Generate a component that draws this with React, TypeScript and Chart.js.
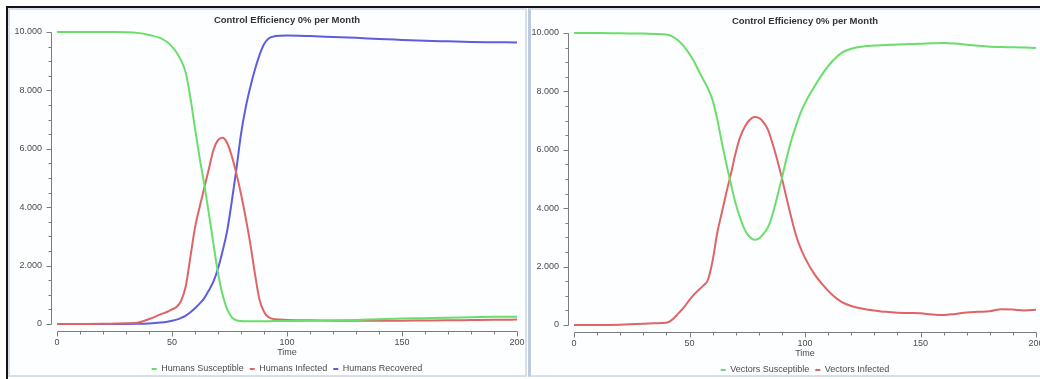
import React, { useEffect, useRef } from 'react';
import { Chart, registerables } from 'chart.js';

Chart.register(...registerables);

// ---------- data ----------
const chartTitle = 'Control Efficiency 0% per Month';
const xAxisTitle = 'Time';
const X_MIN = 0;
const X_MAX = 200;
const X_STEP = 50;
const X_MINOR = 10;
const Y_MIN = 0;
const Y_MAX = 10000;
const Y_STEP = 2000;
const Y_MINOR = 500;

const humanTime = [0, 10, 20, 25, 30, 35, 40, 45, 48, 50, 52, 54, 56, 58, 60, 62, 64, 66, 68, 70, 72, 74, 76, 78, 80, 82, 84, 86, 88, 90, 92, 95, 100, 110, 120, 130, 140, 150, 160, 170, 180, 190, 200];
const humansSusceptible = [10000, 10000, 10000, 10000, 9995, 9970, 9900, 9790, 9650, 9500, 9300, 9020, 8600, 7750, 6700, 5700, 4800, 3800, 2750, 1750, 1000, 500, 230, 130, 100, 95, 90, 90, 90, 90, 95, 100, 105, 110, 125, 140, 165, 185, 200, 215, 235, 250, 245];
const humansInfected = [0, 0, 5, 15, 25, 45, 170, 330, 420, 500, 580, 800, 1300, 2300, 3300, 4000, 4650, 5300, 5950, 6300, 6380, 6200, 5750, 5150, 4450, 3650, 2770, 1750, 850, 420, 230, 160, 140, 125, 115, 110, 110, 115, 120, 125, 135, 145, 150];
const humansRecovered = [0, 0, 0, 0, 0, 5, 20, 50, 80, 110, 150, 210, 290, 400, 540, 700, 880, 1150, 1450, 1900, 2500, 3200, 4200, 5300, 6500, 7400, 8100, 8700, 9200, 9580, 9780, 9860, 9880, 9860, 9830, 9800, 9760, 9730, 9700, 9680, 9660, 9650, 9640];

const vectorTime = [0, 10, 20, 30, 35, 40, 42, 45, 48, 50, 52, 54, 56, 58, 60, 62, 64, 66, 68, 70, 72, 74, 76, 78, 80, 82, 84, 86, 88, 90, 92, 94, 96, 98, 100, 104, 108, 112, 116, 120, 125, 130, 135, 140, 145, 150, 155, 160, 165, 170, 175, 180, 185, 190, 195, 200];
const vectorsSusceptible = [10000, 10000, 9990, 9980, 9970, 9950, 9900, 9750, 9500, 9280, 9020, 8700, 8400, 8100, 7700, 7050, 6250, 5500, 4800, 4150, 3650, 3250, 3020, 2920, 2960, 3120, 3350, 3800, 4400, 5030, 5700, 6300, 6800, 7250, 7600, 8150, 8650, 9050, 9330, 9460, 9540, 9570, 9590, 9610, 9620, 9630, 9650, 9660, 9640, 9600, 9560, 9530, 9520, 9510, 9500, 9490];
const vectorsInfected = [0, 0, 10, 40, 60, 80, 150, 380, 650, 860, 1050, 1200, 1350, 1550, 2200, 3150, 3850, 4550, 5200, 5900, 6450, 6800, 7020, 7120, 7090, 6950, 6680, 6200, 5650, 5030, 4350, 3700, 3100, 2650, 2300, 1750, 1350, 1020, 780, 650, 560, 500, 450, 420, 410, 400, 360, 340, 380, 430, 450, 470, 540, 530, 500, 520];

const GREEN = '#6ade6a';
const RED = '#e06464';
const BLUE = '#5d5de0';

const humanSeries = [
  { label: 'Humans Susceptible', values: humansSusceptible, color: GREEN },
  { label: 'Humans Infected', values: humansInfected, color: RED },
  { label: 'Humans Recovered', values: humansRecovered, color: BLUE },
];
const vectorSeries = [
  { label: 'Vectors Susceptible', values: vectorsSusceptible, color: GREEN },
  { label: 'Vectors Infected', values: vectorsInfected, color: RED },
];

// ---------- helpers ----------
const FAMILY = "'Liberation Sans', Arial, sans-serif";
const TEXT = '#4a4a4a';

function fmt(v: any) {
  return String(v).replace(/\B(?=(\d{3})+(?!\d))/g, '.');
}

const offsetAxes = {
  id: 'offsetAxes',
  afterDraw(chart: any) {
    const { ctx, chartArea, scales } = chart;
    const x = scales.x;
    const y = scales.y;
    ctx.save();
    ctx.strokeStyle = '#7c7c7c';
    ctx.lineWidth = 1;
    ctx.beginPath();
    const ax = Math.round(chartArea.left - 6) + 0.5;
    ctx.moveTo(ax, Math.round(y.getPixelForValue(Y_MAX)) + 0.5);
    ctx.lineTo(ax, Math.round(y.getPixelForValue(Y_MIN)) + 0.5);
    for (let v = Y_MIN; v <= Y_MAX; v += Y_MINOR) {
      const py = Math.round(y.getPixelForValue(v)) + 0.5;
      const len = v % Y_STEP === 0 ? 5 : 3;
      ctx.moveTo(ax - len, py);
      ctx.lineTo(ax, py);
    }
    const ay = Math.round(chartArea.bottom + 7) + 0.5;
    ctx.moveTo(Math.round(x.getPixelForValue(X_MIN)) + 0.5, ay);
    ctx.lineTo(Math.round(x.getPixelForValue(X_MAX)) + 0.5, ay);
    for (let v = X_MIN; v <= X_MAX; v += X_MINOR) {
      const px = Math.round(x.getPixelForValue(v)) + 0.5;
      const len = v % X_STEP === 0 ? 5 : 3;
      ctx.moveTo(px, ay);
      ctx.lineTo(px, ay + len);
    }
    ctx.stroke();
    ctx.restore();
  },
};

function Panel(props: { series: any[]; time: number[]; yWidth: number; padRight: number; width: number; height: number; left: number; top: number }) {
  const ref = useRef<HTMLCanvasElement | null>(null);
  const { series, time, yWidth, padRight, width, height, left, top } = props;
  useEffect(() => {
    if (!ref.current) return;
    const font = { family: FAMILY, size: 9 };
    const chart = new Chart(ref.current, {
      type: 'line',
      data: {
        datasets: series.map((s) => ({
          label: s.label,
          data: time.map((t, i) => ({ x: t, y: s.values[i] })),
          borderColor: s.color,
          backgroundColor: s.color,
          borderWidth: 2,
          pointRadius: 0,
          cubicInterpolationMode: 'monotone',
          clip: 4,
        })),
      },
      options: {
        animation: false,
        responsive: false,
        maintainAspectRatio: false,
        events: [],
        layout: { padding: { left: 0, right: padRight, top: 0, bottom: 1.5 } },
        scales: {
          x: {
            type: 'linear',
            min: X_MIN,
            max: X_MAX,
            grid: { display: false, drawTicks: true, tickLength: 13.5 },
            border: { display: false },
            ticks: { stepSize: X_STEP, padding: 0, font, color: TEXT, maxRotation: 0, autoSkip: false },
            title: { display: true, text: xAxisTitle, font, color: TEXT, padding: { top: 0, bottom: 0.1 } },
            afterFit: (s: any) => {
              s.height = 34.5;
            },
          },
          y: {
            type: 'linear',
            min: Y_MIN,
            max: Y_MAX,
            grid: { display: false, drawTicks: true, tickLength: 15 },
            border: { display: false },
            ticks: { stepSize: Y_STEP, padding: 0, font, color: TEXT, callback: (v: any) => fmt(v) },
            afterFit: (s: any) => {
              s.width = yWidth;
            },
          },
        },
        plugins: {
          title: {
            display: true,
            text: chartTitle,
            fullSize: false,
            color: '#333333',
            font: { family: FAMILY, size: 9.5, weight: 'bold' },
            padding: { top: 5.3, bottom: 6.3 },
          },
          legend: {
            position: 'bottom',
            fullSize: false,
            labels: {
              boxWidth: 5,
              boxHeight: 2,
              padding: 6,
              font,
              color: TEXT,
              generateLabels: (c: any) =>
                (Chart as any).defaults.plugins.legend.labels.generateLabels(c).map((l: any) => ({ ...l, lineWidth: 0 })),
            },
          },
          tooltip: { enabled: false },
        },
      } as any,
      plugins: [offsetAxes],
    } as any);
    return () => chart.destroy();
  }, []);
  return (
    <canvas
      ref={ref}
      width={width}
      height={height}
      style={{ position: 'absolute', left, top, width, height, display: 'block' }}
    />
  );
}

export default function App() {
  return (
    <div style={{ position: 'fixed', left: 0, top: 0, width: 1040, height: 379, overflow: 'hidden', background: '#ffffff' }}>
      <div style={{ position: 'absolute', left: 8, top: 8, width: 519, height: 369, boxSizing: 'border-box', border: '2px solid #d7dfea', background: '#fdfeff' }} />
      <div style={{ position: 'absolute', left: 528, top: 8, width: 520, height: 369, boxSizing: 'border-box', border: '2px solid #d7dfea', borderLeft: '3px solid #bccadd', background: '#fdfeff' }} />
      <div style={{ position: 'absolute', left: 6, top: 6, width: 1034, height: 2, background: '#141414' }} />
      <div style={{ position: 'absolute', left: 6, top: 6, width: 2, height: 373, background: '#141414' }} />
      <Panel series={humanSeries} time={humanTime} yWidth={48} padRight={9} width={517} height={376} left={9} top={9} />
      <Panel series={vectorSeries} time={vectorTime} yWidth={43} padRight={15} width={520} height={376} left={531} top={10} />
    </div>
  );
}
